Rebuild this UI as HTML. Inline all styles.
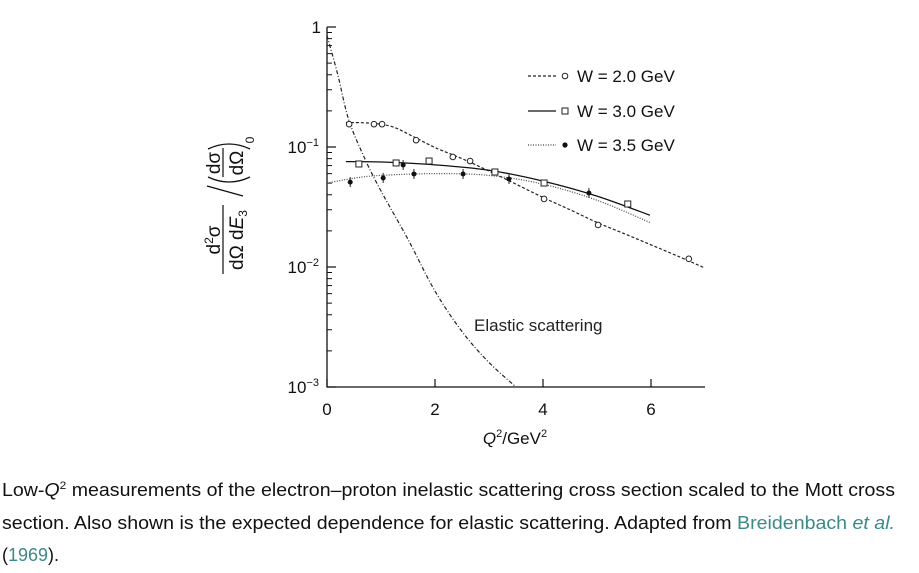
<!DOCTYPE html>
<html><head><meta charset="utf-8"><style>
body{margin:0;background:#fff;}
svg{display:block;font-family:"Liberation Sans",sans-serif;}
</style></head><body>
<svg id="chart" width="919" height="573" viewBox="0 0 919 573" xmlns="http://www.w3.org/2000/svg">
<g id="axes"></g>
<g id="curves"></g>
<g id="points"></g>
<text x="474" y="331" font-size="17" fill="#222">Elastic scattering</text>
<g font-size="17" fill="#111">
 <g>
  <line x1="528" y1="76" x2="556" y2="76" stroke="#222" stroke-width="1.2" stroke-dasharray="3,2"/>
  <circle cx="565" cy="76" r="2.8" fill="#fff" stroke="#222" stroke-width="1"/>
  <text x="577" y="82">W = 2.0 GeV</text></g>
 <g>
  <line x1="528" y1="111" x2="556" y2="111" stroke="#111" stroke-width="1.3"/>
  <rect x="562" y="108" width="6" height="6" fill="#fff" stroke="#222" stroke-width="1"/>
  <text x="577" y="117">W = 3.0 GeV</text></g>
 <g>
  <line x1="528" y1="145" x2="556" y2="145" stroke="#444" stroke-width="1.2" stroke-dasharray="1,1.5"/>
  <circle cx="565" cy="145" r="2.6" fill="#111"/>
  <text x="577" y="151">W = 3.5 GeV</text></g>
</g>
<g transform="translate(223,0) rotate(-90)" font-size="19" fill="#111" text-anchor="middle">
 <text x="-240" y="-3">d<tspan font-size="12" dy="-7">2</tspan><tspan dy="7">σ</tspan></text>
 <line x1="-274" y1="0" x2="-205" y2="0" stroke="#111" stroke-width="1.2"/>
 <text x="-240" y="20">dΩ d<tspan font-style="italic">E</tspan><tspan font-size="12" dy="4">3</tspan></text>
 <line x1="-196" y1="20" x2="-186" y2="-16" stroke="#111" stroke-width="1.3"/>
 <path d="M-177,-15 Q-187,6 -177,27" fill="none" stroke="#111" stroke-width="1.3"/>
 <text x="-163" y="-3">dσ</text>
 <line x1="-177" y1="0" x2="-148" y2="0" stroke="#111" stroke-width="1.2"/>
 <text x="-163" y="20">dΩ</text>
 <path d="M-149,-15 Q-139,6 -149,27" fill="none" stroke="#111" stroke-width="1.3"/>
 <text x="-140" y="31" font-size="12">0</text>
</g>
<text x="515" y="444" font-size="17" text-anchor="middle" fill="#111"><tspan font-style="italic">Q</tspan><tspan font-size="11" dy="-7">2</tspan><tspan dy="7">/GeV</tspan><tspan font-size="11" dy="-7">2</tspan></text>
<g font-size="18" fill="#111">
 <text x="2" y="496" textLength="893" lengthAdjust="spacingAndGlyphs">Low-<tspan font-style="italic">Q</tspan><tspan font-size="11" dy="-7">2</tspan><tspan dy="7"> measurements of the electron–proton inelastic scattering cross section scaled to the Mott cross</tspan></text>
 <text x="2" y="529" textLength="893" lengthAdjust="spacingAndGlyphs">section. Also shown is the expected dependence for elastic scattering. Adapted from <tspan fill="#3a8a8a">Breidenbach <tspan font-style="italic">et al.</tspan></tspan></text>
 <text x="2" y="561" fill="#111">(<tspan fill="#3a8a8a">1969</tspan>).</text>
</g>
</svg>
<script>
const xTicks=[0,2,4,6];
const yTicks=[0,-1,-2,-3];
const w2X=[0.41,0.87,1.02,1.65,2.33,2.65,4.02,5.02,6.70];
const w2Y=[0.155,0.155,0.155,0.114,0.0826,0.0764,0.0369,0.0224,0.0117];
const w3X=[0.59,1.28,1.89,3.11,4.02,5.57];
const w3Y=[0.0722,0.0736,0.0764,0.0619,0.0501,0.0335];
const w35X=[0.43,1.04,1.41,1.61,2.52,3.37,4.85];
const w35Y=[0.051,0.0552,0.0708,0.0596,0.0596,0.0541,0.0414];
const fit2X=[0.35,0.8,1.2,1.6,2.0,2.5,3.0,3.5,4.0,4.5,5.0,5.5,6.0,6.5,7.0];
const fit2Y=[0.16,0.158,0.148,0.122,0.099,0.08,0.063,0.049,0.038,0.030,0.0235,0.019,0.0153,0.0123,0.0098];
const fit3X=[0.35,1,2,3,4,5,5.98];
const fit3Y=[0.0755,0.075,0.071,0.064,0.052,0.039,0.027];
const fit35X=[0,0.5,1,2,3,4,5,5.98];
const fit35Y=[0.05,0.055,0.058,0.06,0.058,0.049,0.036,0.0235];
const elX=[0,0.2,0.4,0.7,1.0,1.5,2.0,2.5,3.0,3.5];
const elY=[0.85,0.4,0.17,0.08,0.043,0.017,0.0063,0.0029,0.0016,0.001];
const X0=327,XS=54,Y0=27,YS=120;
const sx=v=>X0+v*XS, sy=v=>Y0-Math.log10(v)*YS;
const NS="http://www.w3.org/2000/svg";
function mk(t,a,p){const e=document.createElementNS(NS,t);for(const k in a)e.setAttribute(k,a[k]);p.appendChild(e);return e;}
const ax=document.getElementById('axes');
const al=mk('path',{d:`M${sx(0)},${sy(1)}V${sy(0.001)}H${sx(7)}`,fill:'none',stroke:'#111','stroke-width':1.3},ax);


xTicks.forEach(v=>{
 mk('line',{x1:sx(v),x2:sx(v),y1:sy(0.001),y2:sy(0.001)-8,stroke:'#111','stroke-width':1.2},ax);
 const t=mk('text',{x:sx(v),y:415,'font-size':17,'text-anchor':'middle',fill:'#111'},ax);
 t.textContent=v;
 
 
});
yTicks.forEach(p=>{
 const y=sy(Math.pow(10,p));
 mk('line',{x1:X0,x2:X0+9,y1:y,y2:y,stroke:'#111','stroke-width':1.2},ax);
 if(p>-3)for(let m=2;m<10;m++){const yy=sy(m*Math.pow(10,p-1));mk('line',{x1:X0,x2:X0+5,y1:yy,y2:yy,stroke:'#111','stroke-width':1},ax);}
 const t=mk('text',{x:p===0?321:319,y:y+6,'font-size':17,'text-anchor':'end',fill:'#111'},ax);
 
 
 if(p===0)t.textContent='1';
 else{t.textContent='10';const s=mk('tspan',{'font-size':11,dy:-7},t);s.textContent='−'+(-p);}
});
function smooth(xs,ys){
 const P=xs.map((x,i)=>[sx(x),sy(ys[i])]);let d=`M${P[0][0]},${P[0][1]}`;
 for(let i=0;i<P.length-1;i++){const p0=P[i-1]||P[i],p1=P[i],p2=P[i+1],p3=P[i+2]||p2;
  d+=`C${p1[0]+(p2[0]-p0[0])/6},${p1[1]+(p2[1]-p0[1])/6} ${p2[0]-(p3[0]-p1[0])/6},${p2[1]-(p3[1]-p1[1])/6} ${p2[0]},${p2[1]}`;}
 return d;}
const cv=document.getElementById('curves');
const c1=mk('path',{d:smooth(fit2X,fit2Y),fill:'none',stroke:'#222','stroke-width':1.2,'stroke-dasharray':'3,2'},cv);


const c2=mk('path',{d:smooth(fit3X,fit3Y),fill:'none',stroke:'#111','stroke-width':1.3},cv);


const c3=mk('path',{d:smooth(fit35X,fit35Y),fill:'none',stroke:'#444','stroke-width':1.2,'stroke-dasharray':'1,1.5'},cv);


const c4=mk('path',{d:smooth(elX,elY),fill:'none',stroke:'#222','stroke-width':1.2,'stroke-dasharray':'4,2,1,2'},cv);


const pg=document.getElementById('points');
w2X.forEach((x,i)=>{const e=mk('circle',{cx:sx(x),cy:sy(w2Y[i]),r:2.8,fill:'#fff',stroke:'#222','stroke-width':1},pg);
 
 });
w3X.forEach((x,i)=>{const e=mk('rect',{x:sx(x)-3,y:sy(w3Y[i])-3,width:6,height:6,fill:'#fff',stroke:'#222','stroke-width':1},pg);
 
 });
w35X.forEach((x,i)=>{mk('line',{x1:sx(x),x2:sx(x),y1:sy(w35Y[i])-5,y2:sy(w35Y[i])+5,stroke:'#222','stroke-width':1},pg);
 const e=mk('circle',{cx:sx(x),cy:sy(w35Y[i]),r:2.5,fill:'#111'},pg);
 
 });
</script>
</body></html>
